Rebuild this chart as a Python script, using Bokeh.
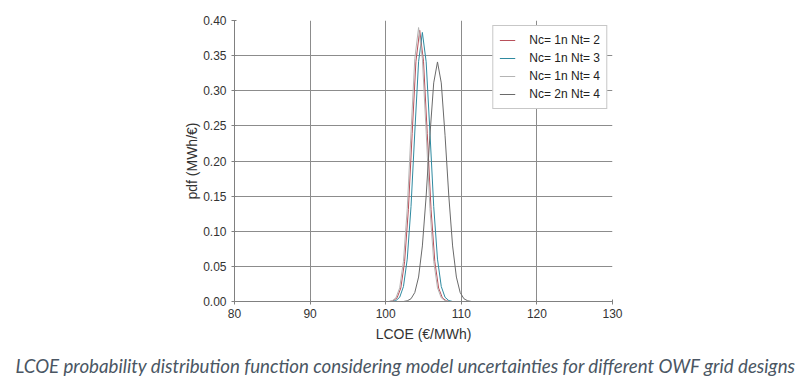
from bokeh.plotting import figure
from bokeh.embed import file_html
from bokeh.resources import INLINE
from bokeh.models import Legend, LegendItem, Title, NumeralTickFormatter, FixedTicker, Range1d

# Series (LCOE in €/MWh, pdf in MWh/€)
x_nt2 = [100.5, 101.0, 101.5, 102.0, 102.5, 103.0, 103.5, 104.0, 104.5, 105.0, 105.5, 106.0, 106.5, 107.0, 107.5, 108.0, 108.5]
y_nt2 = [0.0, 0.0011, 0.0051, 0.0192, 0.0566, 0.131, 0.239, 0.342, 0.386, 0.342, 0.239, 0.131, 0.0566, 0.0192, 0.0051, 0.0011, 0.0]

x_nt3 = [100.85, 101.35, 101.85, 102.35, 102.85, 103.35, 103.85, 104.35, 104.85, 105.35, 105.85, 106.35, 106.85, 107.35, 107.85, 108.35, 108.85]
y_nt3 = [0.0, 0.0013, 0.0060, 0.0213, 0.0603, 0.1354, 0.2413, 0.3413, 0.383, 0.3413, 0.2413, 0.1354, 0.0603, 0.0213, 0.0060, 0.0013, 0.0]

x_nt4 = [100.35, 100.85, 101.35, 101.85, 102.35, 102.85, 103.35, 103.85, 104.35, 104.85, 105.35, 105.85, 106.35, 106.85, 107.35, 107.85, 108.35]
y_nt4 = [0.0, 0.0011, 0.0052, 0.0194, 0.0572, 0.1324, 0.2414, 0.3459, 0.39, 0.3459, 0.2414, 0.1324, 0.0572, 0.0194, 0.0052, 0.0011, 0.0]

x_2n4 = [102.35, 102.85, 103.35, 103.85, 104.35, 104.85, 105.35, 105.85, 106.35, 106.85, 107.35, 107.85, 108.35, 108.85, 109.35, 109.85, 110.35, 110.85, 111.35]
y_2n4 = [0.0, 0.001, 0.0039, 0.0128, 0.0348, 0.0791, 0.1499, 0.2367, 0.3112, 0.341, 0.3112, 0.2367, 0.1499, 0.0791, 0.0348, 0.0128, 0.0039, 0.001, 0.0]

series_labels = ["Nc= 1n Nt= 2", "Nc= 1n Nt= 3", "Nc= 1n Nt= 4", "Nc= 2n Nt= 4"]
series_colors = ["#b8505a", "#2f8aa0", "#b4b4b4", "#6a6a6a"]

x_ticks = [80, 90, 100, 110, 120, 130]
y_ticks = [0.0, 0.05, 0.10, 0.15, 0.20, 0.25, 0.30, 0.35, 0.40]

caption = "LCOE probability distribution function considering model uncertainties for different OWF grid designs"

p = figure(frame_width=378, frame_height=281, output_backend="svg", toolbar_location=None,
           x_range=Range1d(80, 130), y_range=Range1d(0, 0.4),
           min_border_left=234, min_border_right=187, min_border_top=20, min_border_bottom=0)
p.outline_line_color = None
p.background_fill_color = "white"
p.border_fill_color = "white"

xs = [x_nt2, x_nt3, x_nt4, x_2n4]
ys = [y_nt2, y_nt3, y_nt4, y_2n4]
items = []
for xv, yv, lab, col in zip(xs, ys, series_labels, series_colors):
    r = p.line(xv, yv, line_color=col, line_width=1)
    items.append(LegendItem(label=lab, renderers=[r]))

for ax in (p.xaxis[0], p.yaxis[0]):
    ax.axis_line_color = "#808080"
    ax.major_tick_line_color = "#808080"
    ax.minor_tick_line_color = None
    ax.major_tick_out = 3
    ax.major_tick_in = 2
    ax.major_label_text_font = "Liberation Sans"
    ax.major_label_text_font_size = "12px"
    ax.major_label_text_color = "#333333"
    ax.axis_label_text_font = "Liberation Sans"
    ax.axis_label_text_font_size = "14px"
    ax.axis_label_text_font_style = "normal"
    ax.axis_label_text_color = "#333333"

p.xaxis.ticker = FixedTicker(ticks=x_ticks)
p.yaxis.ticker = FixedTicker(ticks=y_ticks)
p.yaxis.formatter = NumeralTickFormatter(format="0.00")
p.xaxis.axis_label = "LCOE (€/MWh)"
p.yaxis.axis_label = "pdf (MWh/€)"
p.xaxis.axis_label_standoff = 5
p.yaxis.axis_label_standoff = 0
p.xaxis.major_label_standoff = 4
p.yaxis.major_label_standoff = 5

p.xgrid.grid_line_color = "#8c8c8c"
p.ygrid.grid_line_color = "#8c8c8c"

legend = Legend(items=items, location="top_right")
legend.margin = 5
legend.padding = 6
legend.spacing = 2
legend.border_line_color = "#909090"
legend.background_fill_color = "white"
legend.background_fill_alpha = 1
legend.label_text_font = "Liberation Sans"
legend.label_text_font_size = "12px"
legend.label_text_color = "#222222"
legend.glyph_width = 16
legend.glyph_height = 16
legend.label_height = 16
legend.label_standoff = 14
p.add_layout(legend, "center")

cap = Title(text=caption, align="left", offset=-219, standoff=16,
            text_font="Lato", text_font_style="italic", text_font_size="18.7px",
            text_color="#4a5663")
p.add_layout(cap, "below")

open("out.html", "w").write(file_html(p, INLINE))
